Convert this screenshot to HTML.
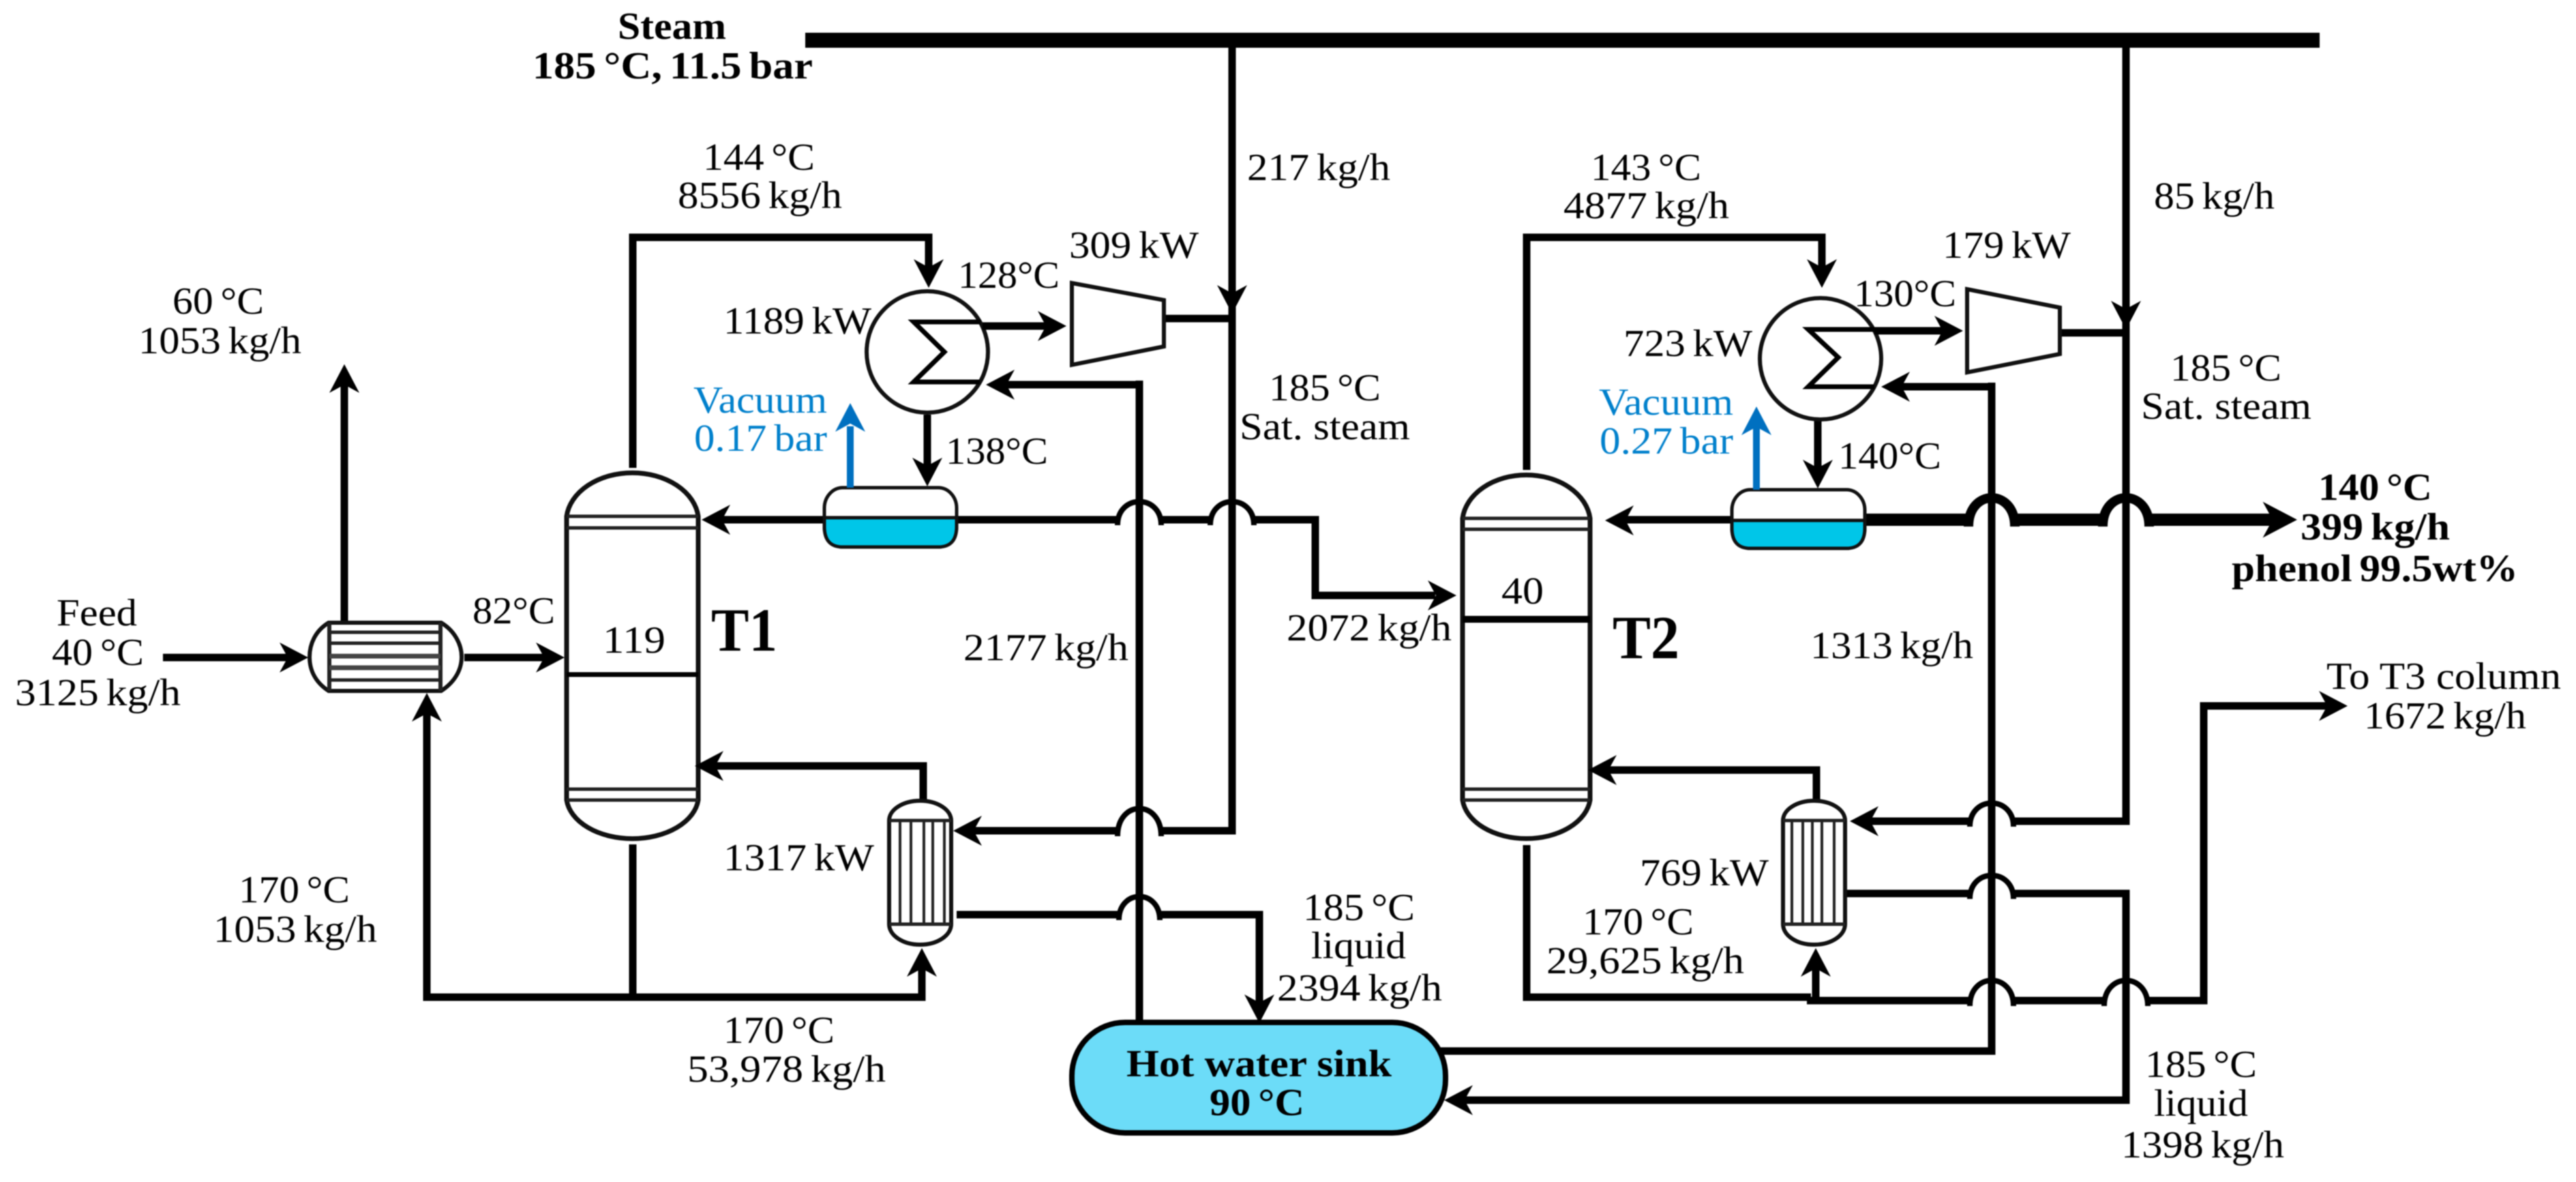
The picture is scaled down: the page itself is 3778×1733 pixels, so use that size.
<!DOCTYPE html>
<html><head><meta charset="utf-8"><style>
html,body{margin:0;padding:0;background:#fff;width:3778px;height:1733px;overflow:hidden}
svg{display:block;filter:blur(.9px)}
text{font-family:"Liberation Serif",serif;font-size:56px;fill:#000;word-spacing:-4px}
.b{font-weight:bold}
.v{fill:#0080cc}
.w{word-spacing:0}
.l{fill:none;stroke:#000;stroke-width:11;stroke-linejoin:miter}
.j{fill:none;stroke:#000;stroke-width:8}
.s{fill:#fff;stroke:#111;stroke-width:6}
.n{fill:none;stroke:#222;stroke-width:5}
</style></head><body>
<svg xmlns="http://www.w3.org/2000/svg" width="3778" height="1733" viewBox="0 0 3778 1733">
<defs><path id="r" d="M0 0L-42 -22L-30 0L-42 22Z"/></defs>
<rect width="3778" height="1733" fill="#fff"/>
<rect x="1181" y="48" width="2221" height="22"/>

<!-- pipes T1 -->
<g class="l">
<path d="M1807 70V1218H1704"/>
<path d="M1638 1218H1415"/>
<path d="M1671 564H1475"/>
<path d="M1671 558V1499"/>
<path d="M928 686V348H1362V395"/>
<path d="M1441 478H1540"/>
<path d="M1707 467H1807"/>
<path d="M1360 608V690"/>
<path d="M1403 762H1638"/>
<path d="M1704 762H1775"/>
<path d="M1839 762H1929V873H2105"/>
<path d="M1209 762H1050"/>
<path d="M239 964H425"/>
<path d="M681 964H800"/>
<path d="M505 911V560"/>
<path d="M626 1040V1462H1352V1410"/>
<path d="M928 1238V1462"/>
<path d="M1354 1174V1123H1040"/>
<path d="M1403 1341H1644"/>
<path d="M1700 1341H1847V1475"/>
<!-- T2 -->
<path d="M3118 70V1204H2954"/>
<path d="M2888 1204H2730"/>
<path d="M2921 567H2785"/>
<path d="M2921 561V1541H2112"/>
<path d="M2239 689V348H2672V395"/>
<path d="M2749 485H2855"/>
<path d="M3021 488H3118"/>
<path d="M2666 616V695"/>
<path d="M2540 762H2375"/>
<path d="M2706 1310H2888"/>
<path d="M2954 1310H3118V1613H2140"/>
<path d="M2239 1239V1462H2656" />
<path d="M2650 1467H2888"/>
<path d="M2954 1467H3085"/>
<path d="M3151 1467H3232V1035H3420"/>
<path d="M2663 1467V1410"/>
<path d="M2664 1174V1129H2350"/>
<path d="M2735 762H2888" style="stroke-width:18"/>
<path d="M2954 762H3085" style="stroke-width:18"/>
<path d="M3151 762H3335" style="stroke-width:18"/>
</g>
<!-- line jumps -->
<g class="j">
<path d="M1639 770C1639 724 1703 724 1703 770"/>
<path d="M1775 770C1775 724 1839 724 1839 770"/>
<path d="M1639 1226C1639 1172 1703 1172 1703 1226"/>
<path d="M1641 1349C1641 1303 1701 1303 1701 1349"/>
<path d="M2889 1212C2889 1166 2953 1166 2953 1212"/>
<path d="M2889 1318C2889 1272 2953 1272 2953 1318"/>
<path d="M2889 1475C2889 1425 2953 1425 2953 1475"/>
<path d="M3086 1475C3086 1425 3150 1425 3150 1475"/>
<path d="M2887 772C2887 716 2955 716 2955 772" style="stroke-width:14"/>
<path d="M3084 772C3084 716 3152 716 3152 772" style="stroke-width:14"/>
</g>

<!-- Tower T1 -->
<path class="s" style="stroke-width:7" d="M831 757A97 71 0 0 1 1024 757V1173A97 63 0 0 1 831 1173Z"/>
<path class="n" d="M831 757H1024M831 774H1024M831 1157H1024M831 1173H1024"/>
<path class="l" style="stroke-width:7" d="M831 989H1024"/>
<!-- Tower T2 -->
<path class="s" style="stroke-width:7" d="M2145 760A94 71 0 0 1 2332 760V1173A94 63 0 0 1 2145 1173Z"/>
<path class="n" d="M2145 760H2332M2145 776H2332M2145 1157H2332M2145 1173H2332"/>
<path class="l" style="stroke-width:10" d="M2145 908H2332"/>

<!-- Preheater -->
<path class="s" d="M482 913H647C667 925 677 945 677 963C677 982 667 1000 647 1013H482C462 1000 454 982 454 963C454 945 462 925 482 913Z"/>
<path class="n" style="stroke-width:6" d="M483 913V1013M646 913V1013"/>
<path class="n" style="stroke:#222" d="M483 927H646M483 943H646M483 997H646"/>
<path class="n" style="stroke-width:7;stroke:#444" d="M483 962H646M483 979H646"/>

<!-- Condensers -->
<circle class="s" cx="1360" cy="516" r="89"/>
<path d="M1438 472H1340L1385 516L1340 560H1437" fill="none" stroke="#000" stroke-width="7"/>
<circle class="s" cx="2670" cy="526" r="89"/>
<path d="M2749 483H2652L2696 524L2652 567H2749" fill="none" stroke="#000" stroke-width="7"/>
<path class="l" d="M1441 478H1470M2749 485H2780"/>

<!-- Compressors -->
<path class="s" d="M1572 415L1707 440V508L1572 535Z"/>
<path class="s" d="M2885 424L3021 451V519L2885 546Z"/>

<!-- Drums -->
<rect class="s" style="stroke-width:5" x="1209" y="715" width="194" height="87" rx="27" ry="30"/>
<path d="M1209 759H1403V772Q1403 802 1376 802H1236Q1209 802 1209 772Z" fill="#00c6e8" stroke="#111" stroke-width="5"/>
<rect class="s" style="stroke-width:5" x="2540" y="718" width="195" height="86" rx="27" ry="30"/>
<path d="M2540 763H2735V774Q2735 804 2708 804H2567Q2540 804 2540 774Z" fill="#00c6e8" stroke="#111" stroke-width="5"/>

<!-- Reboilers -->
<path class="s" d="M1304 1203A45.500 29 0 0 1 1395 1203V1355A45.500 30 0 0 1 1304 1355Z"/>
<path class="n" d="M1304 1203H1395M1304 1355H1395"/>
<path class="n" style="stroke-width:4" d="M1320 1203V1355M1336 1203V1355M1355 1203V1355M1368 1203V1355M1385 1203V1355"/>
<path class="s" d="M2615 1203A45.500 29 0 0 1 2706 1203V1355A45.500 30 0 0 1 2615 1355Z"/>
<path class="n" d="M2615 1203H2706M2615 1355H2706"/>
<path class="n" style="stroke-width:4" d="M2628 1203V1355M2644 1203V1355M2658 1203V1355M2672 1203V1355M2690 1203V1355"/>

<!-- Hot water sink -->
<rect x="1572" y="1499" width="548" height="162" rx="78" ry="78" fill="#6cdcf8" stroke="#000" stroke-width="8"/>

<!-- Vacuum arrows -->
<path d="M1247 715V625M2576 718V625" stroke="#0070c0" stroke-width="10" fill="none"/>
<use href="#r" fill="#0070c0" transform="translate(1247,591) rotate(-90)"/>
<use href="#r" fill="#0070c0" transform="translate(2576,596) rotate(-90)"/>

<!-- Arrowheads -->
<use href="#r" transform="translate(452,964)"/>
<use href="#r" transform="translate(828,964)"/>
<use href="#r" transform="translate(505,534) rotate(-90)"/>
<use href="#r" transform="translate(626,1016) rotate(-90)"/>
<use href="#r" transform="translate(1352,1390) rotate(-90)"/>
<use href="#r" transform="translate(1019,1123) rotate(180)"/>
<use href="#r" transform="translate(1029,762) rotate(180)"/>
<use href="#r" transform="translate(1362,422) rotate(90)"/>
<use href="#r" transform="translate(1360,713) rotate(90)"/>
<use href="#r" transform="translate(1564,478)"/>
<use href="#r" transform="translate(1446,564) rotate(180)"/>
<use href="#r" transform="translate(1807,460) rotate(90)"/>
<use href="#r" transform="translate(1398,1218) rotate(180)"/>
<use href="#r" transform="translate(1847,1500) rotate(90)"/>
<use href="#r" transform="translate(2136,873)"/>
<use href="#r" transform="translate(2354,763) rotate(180)"/>
<use href="#r" transform="translate(2672,422) rotate(90)"/>
<use href="#r" transform="translate(2666,716) rotate(90)"/>
<use href="#r" transform="translate(2879,485)"/>
<use href="#r" transform="translate(2759,567) rotate(180)"/>
<use href="#r" transform="translate(3118,483) rotate(90)"/>
<use href="#r" transform="translate(2713,1204) rotate(180)"/>
<use href="#r" transform="translate(2329,1129) rotate(180)"/>
<use href="#r" transform="translate(2663,1390) rotate(-90)"/>
<use href="#r" transform="translate(2118,1613) rotate(180)"/>
<use href="#r" transform="translate(3443,1035)"/>
<use href="#r" transform="translate(3369,762) scale(1.2)"/>

<!-- Labels -->
<text class="b" x="906" y="57" textLength="159" lengthAdjust="spacingAndGlyphs">Steam</text>
<text class="b" x="781" y="115" textLength="411" lengthAdjust="spacingAndGlyphs">185 °C, 11.5 bar</text>
<text x="1031" y="249" textLength="164" lengthAdjust="spacingAndGlyphs">144 °C</text>
<text x="994" y="305" textLength="241" lengthAdjust="spacingAndGlyphs">8556 kg/h</text>
<text x="253" y="460" textLength="134" lengthAdjust="spacingAndGlyphs">60 °C</text>
<text x="203" y="518" textLength="239" lengthAdjust="spacingAndGlyphs">1053 kg/h</text>
<text x="1061" y="489" textLength="217" lengthAdjust="spacingAndGlyphs">1189 kW</text>
<text class="v" x="1017" y="605" textLength="196" lengthAdjust="spacingAndGlyphs">Vacuum</text>
<text class="v" x="1018" y="661" textLength="195" lengthAdjust="spacingAndGlyphs">0.17 bar</text>
<text x="1829" y="264" textLength="210" lengthAdjust="spacingAndGlyphs">217 kg/h</text>
<text x="2333" y="264" textLength="162" lengthAdjust="spacingAndGlyphs">143 °C</text>
<text x="2293" y="320" textLength="243" lengthAdjust="spacingAndGlyphs">4877 kg/h</text>
<text x="1568" y="378" textLength="190" lengthAdjust="spacingAndGlyphs">309 kW</text>
<text x="1405" y="422" textLength="149" lengthAdjust="spacingAndGlyphs">128°C</text>
<text x="1861" y="587" textLength="164" lengthAdjust="spacingAndGlyphs">185 °C</text>
<text class="w" x="1818" y="644" textLength="250" lengthAdjust="spacingAndGlyphs">Sat. steam</text>
<text x="1387" y="680" textLength="150" lengthAdjust="spacingAndGlyphs">138°C</text>
<text x="2381" y="522" textLength="189" lengthAdjust="spacingAndGlyphs">723 kW</text>
<text class="v" x="2345" y="608" textLength="197" lengthAdjust="spacingAndGlyphs">Vacuum</text>
<text class="v" x="2346" y="665" textLength="196" lengthAdjust="spacingAndGlyphs">0.27 bar</text>
<text x="3159" y="306" textLength="177" lengthAdjust="spacingAndGlyphs">85 kg/h</text>
<text x="2849" y="378" textLength="188" lengthAdjust="spacingAndGlyphs">179 kW</text>
<text x="2719" y="449" textLength="150" lengthAdjust="spacingAndGlyphs">130°C</text>
<text x="3183" y="558" textLength="163" lengthAdjust="spacingAndGlyphs">185 °C</text>
<text class="w" x="3140" y="614" textLength="250" lengthAdjust="spacingAndGlyphs">Sat. steam</text>
<text x="2696" y="687" textLength="151" lengthAdjust="spacingAndGlyphs">140°C</text>
<text class="b" x="3400" y="733" textLength="167" lengthAdjust="spacingAndGlyphs">140 °C</text>
<text class="b" x="3374" y="791" textLength="219" lengthAdjust="spacingAndGlyphs">399 kg/h</text>
<text class="b" x="3273" y="852" textLength="420" lengthAdjust="spacingAndGlyphs">phenol 99.5wt%</text>
<text x="83" y="917" textLength="118" lengthAdjust="spacingAndGlyphs">Feed</text>
<text x="76" y="975" textLength="135" lengthAdjust="spacingAndGlyphs">40 °C</text>
<text x="22" y="1034" textLength="243" lengthAdjust="spacingAndGlyphs">3125 kg/h</text>
<text x="693" y="914" textLength="121" lengthAdjust="spacingAndGlyphs">82°C</text>
<text x="884" y="957" textLength="92" lengthAdjust="spacingAndGlyphs">119</text>
<text class="b" x="1043" y="954" style="font-size:90px" textLength="97" lengthAdjust="spacingAndGlyphs">T1</text>
<text x="1061" y="1276" textLength="221" lengthAdjust="spacingAndGlyphs">1317 kW</text>
<text x="350" y="1323" textLength="163" lengthAdjust="spacingAndGlyphs">170 °C</text>
<text x="313" y="1381" textLength="240" lengthAdjust="spacingAndGlyphs">1053 kg/h</text>
<text x="1061" y="1529" textLength="163" lengthAdjust="spacingAndGlyphs">170 °C</text>
<text x="1008" y="1586" textLength="291" lengthAdjust="spacingAndGlyphs">53,978 kg/h</text>
<text x="1887" y="939" textLength="242" lengthAdjust="spacingAndGlyphs">2072 kg/h</text>
<text x="2202" y="885" textLength="62" lengthAdjust="spacingAndGlyphs">40</text>
<text class="b" x="2365" y="965" style="font-size:90px" textLength="98" lengthAdjust="spacingAndGlyphs">T2</text>
<text x="1413" y="968" textLength="242" lengthAdjust="spacingAndGlyphs">2177 kg/h</text>
<text x="1911" y="1349" textLength="164" lengthAdjust="spacingAndGlyphs">185 °C</text>
<text x="1923" y="1405" textLength="139" lengthAdjust="spacingAndGlyphs">liquid</text>
<text x="1873" y="1467" textLength="242" lengthAdjust="spacingAndGlyphs">2394 kg/h</text>
<text class="b w" x="1652" y="1578" textLength="389" lengthAdjust="spacingAndGlyphs">Hot water sink</text>
<text class="b" x="1774" y="1635" textLength="139" lengthAdjust="spacingAndGlyphs">90 °C</text>
<text x="2405" y="1298" textLength="189" lengthAdjust="spacingAndGlyphs">769 kW</text>
<text x="2321" y="1370" textLength="163" lengthAdjust="spacingAndGlyphs">170 °C</text>
<text x="2268" y="1427" textLength="290" lengthAdjust="spacingAndGlyphs">29,625 kg/h</text>
<text x="2655" y="965" textLength="239" lengthAdjust="spacingAndGlyphs">1313 kg/h</text>
<text class="w" x="3412" y="1010" textLength="344" lengthAdjust="spacingAndGlyphs">To T3 column</text>
<text x="3467" y="1068" textLength="238" lengthAdjust="spacingAndGlyphs">1672 kg/h</text>
<text x="3146" y="1579" textLength="164" lengthAdjust="spacingAndGlyphs">185 °C</text>
<text x="3159" y="1636" textLength="138" lengthAdjust="spacingAndGlyphs">liquid</text>
<text x="3111" y="1697" textLength="239" lengthAdjust="spacingAndGlyphs">1398 kg/h</text>
</svg>
</body></html>
